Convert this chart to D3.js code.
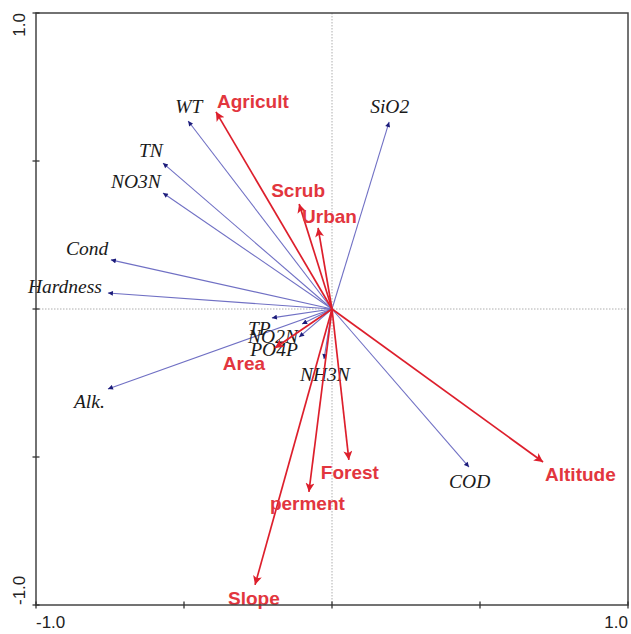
<!DOCTYPE html>
<html><head><meta charset="utf-8">
<script src="https://cdn.jsdelivr.net/npm/d3@7"></script>
<style>body{margin:0;background:#fff}svg{display:block}</style>
</head><body>
<script>
// Environmental variables (blue arrows)
const envNames = ["WT","TN","NO3N","Cond","Hardness","Alk.","SiO2","COD","TP","NO2N","PO4P","NH3N"];
const envX = [-0.486,-0.571,-0.571,-0.747,-0.757,-0.757,0.193,0.463,-0.203,-0.101,-0.111,-0.027];
const envY = [0.635,0.493,0.392,0.166,0.054,-0.270,0.632,-0.534,-0.030,-0.051,-0.095,-0.169];
// Landscape factors (red arrows)
const facNames = ["Agricult","Scrub","Urban","Area","Forest","perment","Slope","Altitude"];
const facX = [-0.392,-0.111,-0.047,-0.193,0.057,-0.078,-0.260,0.713];
const facY = [0.666,0.355,0.274,-0.132,-0.510,-0.618,-0.932,-0.517];
// Axis ticks
const tickValues = [-1,-0.5,0,0.5,1];
const axisLabels = ["-1.0","1.0"];

// label placement (pixel offsets from arrow tip)
const envLabelDx = [-13,-24,-52,-45,-80,-34,-19,-20,-24,-54,-49,-24];
const envLabelDy = [-8,-6,-5,-5,0,19,-9,21,17,19,19,22];
const facLabelDx = [1,-28,-16,-52,-28,-39,-27,2];
const facLabelDy = [-4,-7,-5,22,19,18,20,19];

const W = 631, H = 634;
const svg = d3.select("body").append("svg").attr("width",W).attr("height",H);
const x = d3.scaleLinear().domain([-1,1]).range([36,628]);
const y = d3.scaleLinear().domain([-1,1]).range([605,13]);

const defs = svg.append("defs");
defs.append("marker").attr("id","ab").attr("markerUnits","userSpaceOnUse")
  .attr("viewBox","0 0 10 10").attr("refX",10).attr("refY",5)
  .attr("markerWidth",7).attr("markerHeight",5).attr("orient","auto")
  .append("path").attr("d","M0,0L10,5L0,10Z").attr("fill","#1c1c7a");
defs.append("marker").attr("id","ar").attr("markerUnits","userSpaceOnUse")
  .attr("viewBox","0 0 10 10").attr("refX",10).attr("refY",5)
  .attr("markerWidth",14).attr("markerHeight",9).attr("orient","auto")
  .append("path").attr("d","M0,0L10,5L0,10L2.5,5Z").attr("fill","#dd1f2c");

// center dotted lines
svg.append("line").attr("x1",x(0)).attr("x2",x(0)).attr("y1",y(1)).attr("y2",y(-1))
  .attr("stroke","#9a9a9a").attr("stroke-width",0.8).attr("stroke-dasharray","1.5,1.5");
svg.append("line").attr("x1",x(-1)).attr("x2",x(1)).attr("y1",y(0)).attr("y2",y(0))
  .attr("stroke","#9a9a9a").attr("stroke-width",0.8).attr("stroke-dasharray","1.5,1.5");

// blue arrows
const env = envNames.map((n,i)=>({n,x:envX[i],y:envY[i],dx:envLabelDx[i],dy:envLabelDy[i]}));
svg.append("g").selectAll("line").data(env).join("line")
  .attr("x1",x(0)).attr("y1",y(0)).attr("x2",d=>x(d.x)).attr("y2",d=>y(d.y))
  .attr("stroke","#7070c4").attr("stroke-width",1.1).attr("marker-end","url(#ab)");
svg.append("g").selectAll("text").data(env).join("text")
  .attr("x",d=>x(d.x)+d.dx).attr("y",d=>y(d.y)+d.dy)
  .attr("font-family","'Liberation Serif','Times New Roman',serif").attr("font-style","italic")
  .attr("font-size",19.5).attr("fill","#1a1a1a").text(d=>d.n);

// red arrows
const fac = facNames.map((n,i)=>({n,x:facX[i],y:facY[i],dx:facLabelDx[i],dy:facLabelDy[i]}));
svg.append("g").selectAll("line").data(fac).join("line")
  .attr("x1",x(0)).attr("y1",y(0)).attr("x2",d=>x(d.x)).attr("y2",d=>y(d.y))
  .attr("stroke","#dd1f2c").attr("stroke-width",1.7).attr("marker-end","url(#ar)");
svg.append("g").selectAll("text").data(fac).join("text")
  .attr("x",d=>x(d.x)+d.dx).attr("y",d=>y(d.y)+d.dy)
  .attr("font-family","'Liberation Sans',Arial,sans-serif").attr("font-weight","bold")
  .attr("font-size",19).attr("fill","#e2363e").text(d=>d.n);

// frame
svg.append("rect").attr("x",x(-1)).attr("y",y(1)).attr("width",x(1)-x(-1)).attr("height",y(-1)-y(1))
  .attr("fill","none").attr("stroke","#444").attr("stroke-width",1.5);
// crossing ticks
svg.append("g").selectAll("line").data(tickValues).join("line")
  .attr("x1",x(-1)-3.5).attr("x2",x(-1)+3.5).attr("y1",d=>y(d)).attr("y2",d=>y(d))
  .attr("stroke","#333").attr("stroke-width",1.3);
svg.append("g").selectAll("line").data(tickValues).join("line")
  .attr("y1",y(-1)-3.5).attr("y2",y(-1)+3.5).attr("x1",d=>x(d)).attr("x2",d=>x(d))
  .attr("stroke","#333").attr("stroke-width",1.3);

const lf = "'Liberation Sans',Arial,sans-serif";
svg.append("text").attr("x",x(-1)).attr("y",628).attr("font-family",lf).attr("font-size",17)
  .attr("fill","#222").text(axisLabels[0]);
svg.append("text").attr("x",x(1)).attr("y",628).attr("text-anchor","end").attr("font-family",lf)
  .attr("font-size",17).attr("fill","#222").text(axisLabels[1]);
svg.append("text").attr("transform",`translate(25,${y(1)}) rotate(-90)`).attr("text-anchor","end")
  .attr("font-family",lf).attr("font-size",17).attr("fill","#222").text(axisLabels[1]);
svg.append("text").attr("transform",`translate(25,${y(-1)}) rotate(-90)`).attr("text-anchor","start")
  .attr("font-family",lf).attr("font-size",17).attr("fill","#222").text(axisLabels[0]);
</script>
</body></html>
